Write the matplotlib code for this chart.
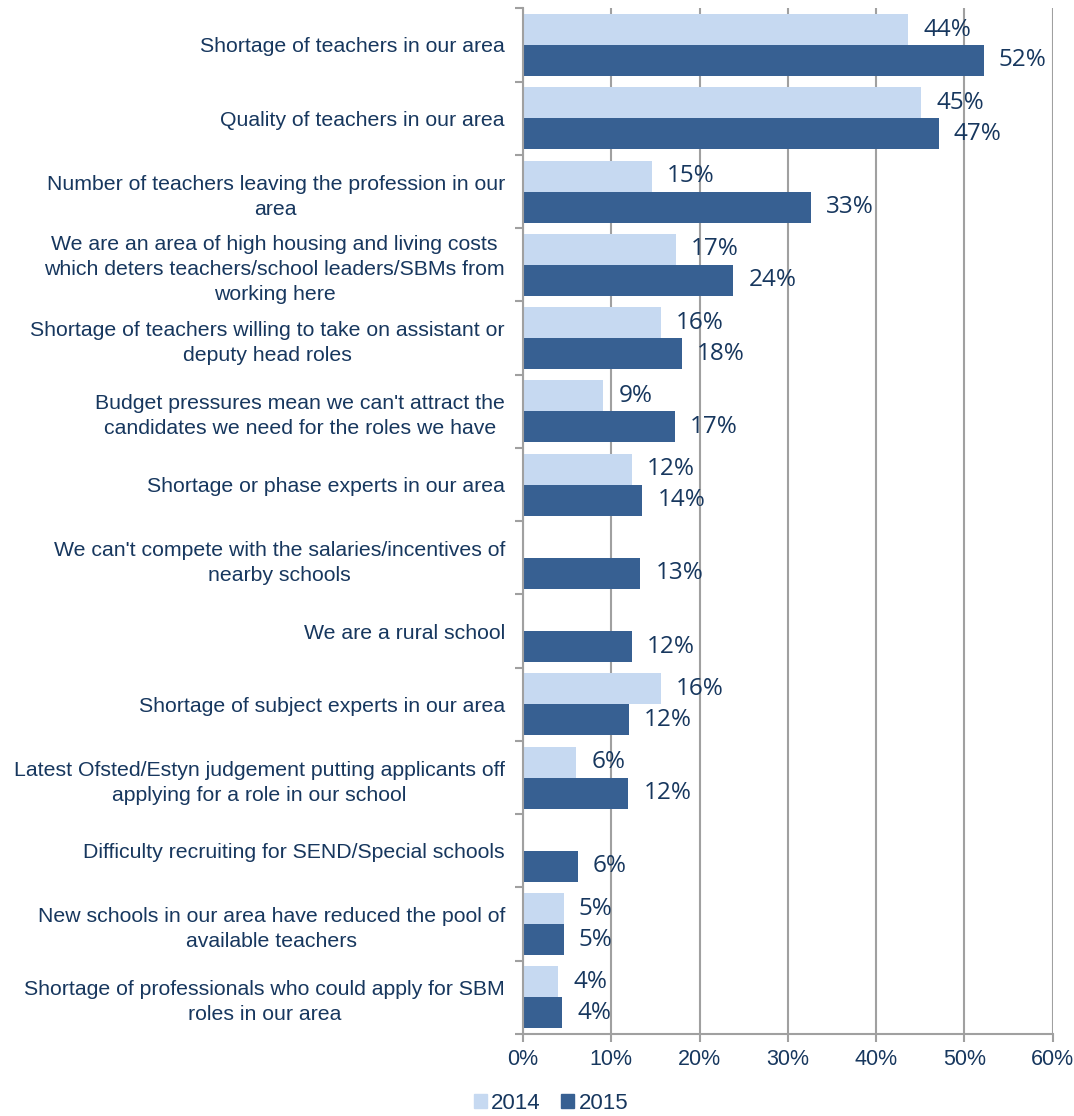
import numpy as np
import matplotlib.pyplot as plt
from matplotlib.patches import Patch

# survey answers, top to bottom
categories = [
    "Shortage of teachers in our area",
    "Quality of teachers in our area",
    "Number of teachers leaving the profession in our\narea",
    "We are an area of high housing and living costs\nwhich deters teachers/school leaders/SBMs from\nworking here",
    "Shortage of teachers willing to take on assistant or\ndeputy head roles",
    "Budget pressures mean we can't attract the\ncandidates we need for the roles we have",
    "Shortage or phase experts in our area",
    "We can't compete with the salaries/incentives of\nnearby schools",
    "We are a rural school",
    "Shortage of subject experts in our area",
    "Latest Ofsted/Estyn judgement putting applicants off\napplying for a role in our school",
    "Difficulty recruiting for SEND/Special schools",
    "New schools in our area have reduced the pool of\navailable teachers",
    "Shortage of professionals who could apply for SBM\nroles in our area",
]
# percentages, nan = not asked that year
vals_2014 = [43.6, 45.1, 14.6, 17.3, 15.6, 9.1, 12.3, np.nan, np.nan, 15.6, 6.0, np.nan, 4.6, 4.0]
vals_2015 = [52.2, 47.1, 32.6, 23.8, 18.0, 17.2, 13.5, 13.3, 12.3, 12.0, 11.9, 6.2, 4.6, 4.4]
x_ticks = [0, 10, 20, 30, 40, 50, 60]
series_names = ["2014", "2015"]

navy = "#17375E"
light = "#C6D9F1"
dark = "#376092"
grid_c = "#A0A0A0"

fig = plt.figure(figsize=(10.74, 11.16), dpi=100)
ax = fig.add_axes([0.487, 0.0735, 0.493, 0.919])

y = np.arange(len(categories))
h = 0.423
ax.barh(y - h / 2, vals_2014, height=h, color=light, zorder=2)
ax.barh(y + h / 2, vals_2015, height=h, color=dark, zorder=2)

# value labels at the outer end of each bar
for vals, off in ((vals_2014, -h / 2), (vals_2015, h / 2)):
    for i, v in enumerate(vals):
        if np.isnan(v):
            continue
        ax.annotate(f"{v:.0f}%", (v, i + off), xytext=(11, 0), textcoords="offset points",
                    ha="left", va="center", fontsize=17.5, color=navy, family="Open Sans")

ax.set_xlim(0, 60)
ax.set_ylim(len(categories) - 0.5, -0.5)
ax.set_xticks(x_ticks)
ax.set_xticklabels([f"{t}%" for t in x_ticks])

# category labels sit between the boundary ticks
ax.set_yticks(np.arange(len(categories) + 1) - 0.5)
ax.set_yticklabels([])
ax.set_yticks(y, minor=True)
ax.set_yticklabels(categories, minor=True, multialignment="center")
ax.tick_params(axis="y", which="minor", length=0, pad=13, labelsize=15.3, labelcolor=navy)
ax.tick_params(axis="y", which="major", length=6, color=grid_c, width=1.5, direction="out")
ax.tick_params(axis="x", length=6, color=grid_c, width=1.5, labelsize=15.5, labelcolor=navy, pad=5)
for lab in ax.get_yticklabels(minor=True):
    lab.set_linespacing(1.4)
    lab.set_family("Liberation Sans")
for lab in ax.get_xticklabels():
    lab.set_family("Liberation Sans")

ax.xaxis.grid(True, color=grid_c, linewidth=1.5, zorder=0)
for s in ("top", "right"):
    ax.spines[s].set_visible(False)
for s in ("left", "bottom"):
    ax.spines[s].set_color(grid_c)
    ax.spines[s].set_linewidth(1.5)

handles = [Patch(color=light), Patch(color=dark)]
leg = fig.legend(handles, series_names, loc="center", bbox_to_anchor=(0.513, 0.011), ncol=2,
                 frameon=False, handlelength=0.6, handleheight=0.6, handletextpad=0.2,
                 columnspacing=0.9, prop={"family": "Liberation Sans", "size": 16})
for t in leg.get_texts():
    t.set_color(navy)

fig.savefig("out.png", dpi=100)
